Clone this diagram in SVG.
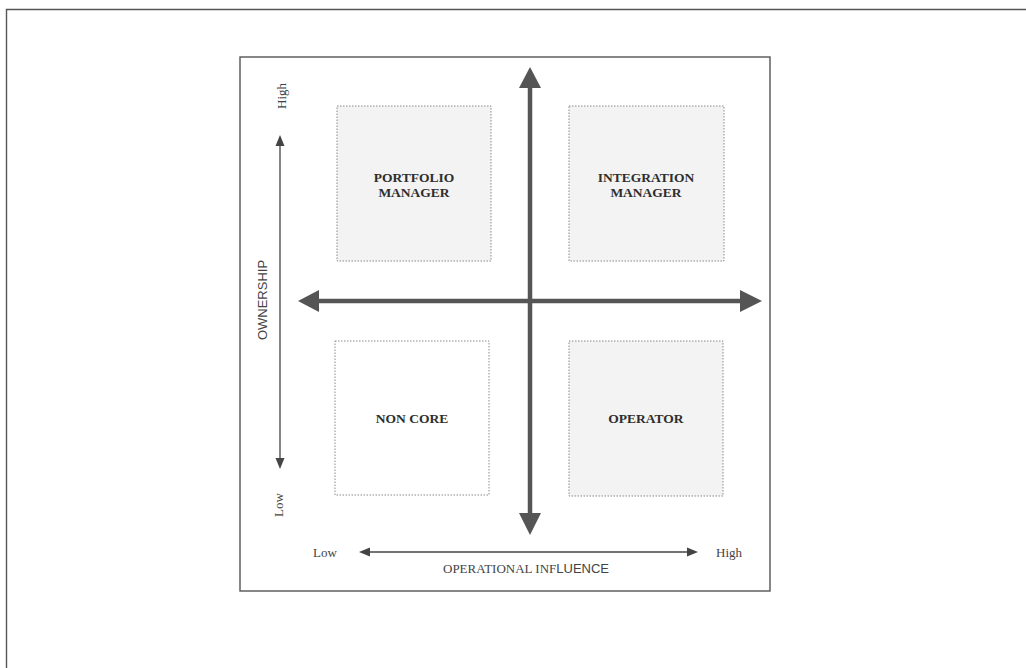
<svg xmlns="http://www.w3.org/2000/svg" width="1026" height="668" viewBox="0 0 1026 668">
  <defs>
    <style>
      .frame { fill: none; stroke: #555; stroke-width: 1.4; }
      .box { stroke: #8a8a8a; stroke-width: 1; stroke-dasharray: 1.5 1.5; }
      .grey { fill: #f3f3f3; }
      .white { fill: #ffffff; }
      .lbl { font-family: "Liberation Serif", "Times New Roman", serif; font-weight: bold; font-size: 13.5px; fill: #2e2e2e; text-anchor: middle; }
      .ax { font-family: "Liberation Serif", "Times New Roman", serif; font-size: 13px; fill: #444; }
      .axs { font-family: "Liberation Sans", Arial, sans-serif; font-size: 13px; fill: #444; }
      .thick { stroke: #555; stroke-width: 4.5; fill: none; }
      .thin { stroke: #444; stroke-width: 1.3; fill: none; }
      .head { fill: #555; }
      .hthin { fill: #444; }
    </style>
  </defs>
  <rect width="1026" height="668" fill="#ffffff"/>
  <path class="frame" d="M6.5,668 V9.5 H1026"/>
  <rect class="frame" x="240" y="57" width="530" height="534"/>

  <g id="portfolio-manager">
    <rect class="box grey" x="337" y="106" width="154" height="155"/>
    <text class="lbl" x="414" y="182">PORTFOLIO</text>
    <text class="lbl" x="414" y="197">MANAGER</text>
  </g>
  <g id="integration-manager">
    <rect class="box grey" x="569" y="106" width="155" height="155"/>
    <text class="lbl" x="646" y="182">INTEGRATION</text>
    <text class="lbl" x="646" y="197">MANAGER</text>
  </g>
  <g id="non-core">
    <rect class="box white" x="335" y="341" width="154" height="154"/>
    <text class="lbl" x="412" y="423">NON CORE</text>
  </g>
  <g id="operator">
    <rect class="box grey" x="569" y="341" width="154" height="155"/>
    <text class="lbl" x="646" y="423">OPERATOR</text>
  </g>

  <g id="connectors">
    <line class="thick" x1="530" y1="86" x2="530" y2="515"/>
    <polygon class="head" points="530,67 541,88 519,88"/>
    <polygon class="head" points="530,535 541,513 519,513"/>
    <line class="thick" x1="317" y1="301" x2="742" y2="301"/>
    <polygon class="head" points="298,301 319,290 319,312"/>
    <polygon class="head" points="762,301 740,290 740,312"/>

    <line class="thin" x1="280" y1="144" x2="280" y2="460"/>
    <polygon class="hthin" points="280,135 284.5,146 275.5,146"/>
    <polygon class="hthin" points="280,469 284.5,458 275.5,458"/>
    <line class="thin" x1="368" y1="552" x2="689" y2="552"/>
    <polygon class="hthin" points="359,552 370,547.5 370,556.5"/>
    <polygon class="hthin" points="698,552 687,547.5 687,556.5"/>
  </g>

  <g id="axis-labels">
    <text class="ax" transform="translate(286,96) rotate(-90)" text-anchor="middle">High</text>
    <text class="ax" transform="translate(283,505) rotate(-90)" text-anchor="middle">Low</text>
    <text class="axs" transform="translate(267,300) rotate(-90)" text-anchor="middle">OWNERSHIP</text>
    <text class="ax" x="313" y="557">Low</text>
    <text class="ax" x="716" y="557">High</text>
    <text class="ax" x="443" y="573">OPERATIONAL INF<tspan class="axs" style="font-size:13px">LUENCE</tspan></text>
  </g>
</svg>
